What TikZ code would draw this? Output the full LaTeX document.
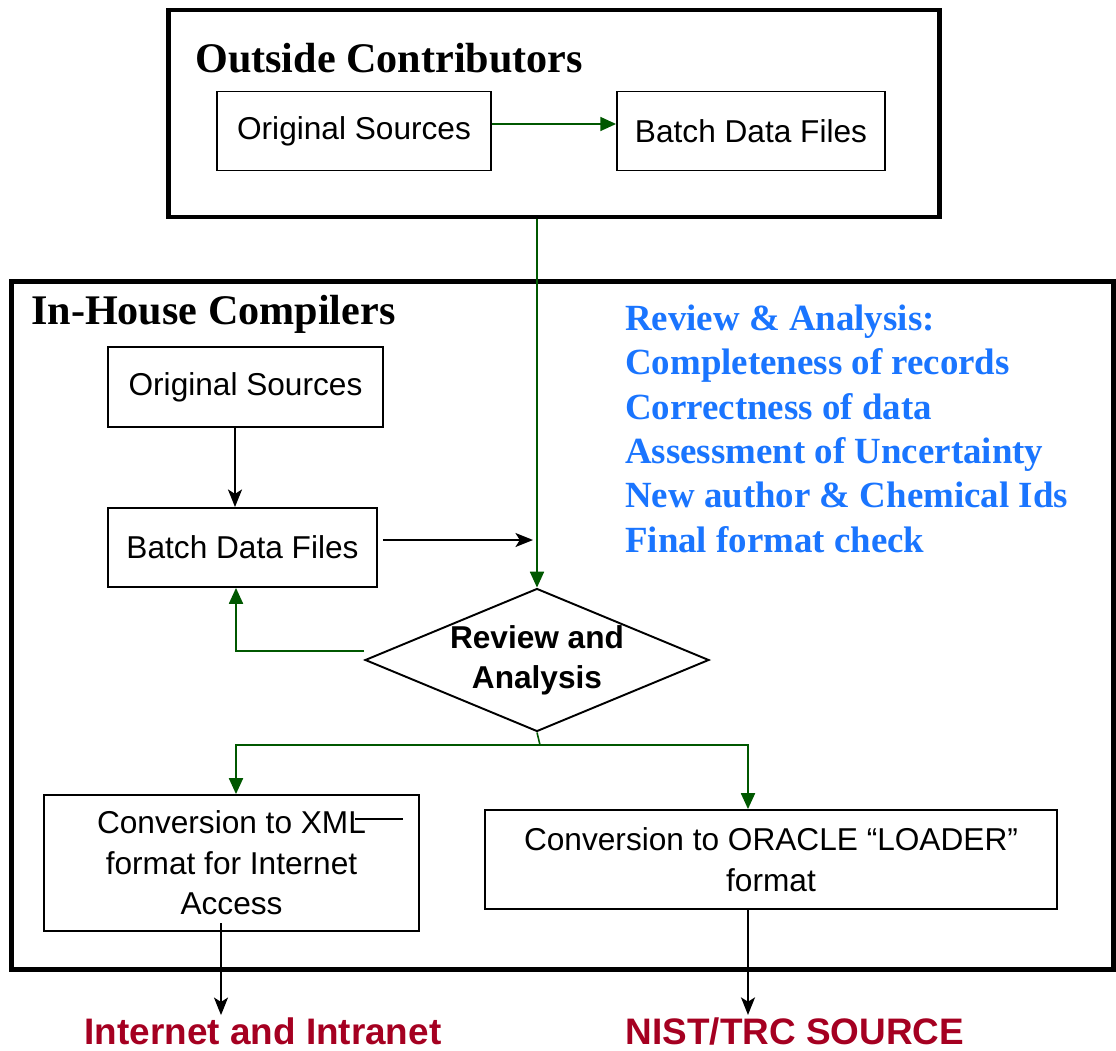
\documentclass[tikz,border=0pt]{standalone}
\usepackage{fontspec}
\setmainfont{Liberation Serif}
\setsansfont{Liberation Sans}
\usetikzlibrary{shapes.geometric,arrows.meta}
\definecolor{flowgreen}{RGB}{0,88,0}
\definecolor{notesblue}{RGB}{26,117,255}
\definecolor{outred}{RGB}{165,0,33}

\begin{document}
\begin{tikzpicture}[x=0.02cm,y=-0.02cm,
  box/.style={draw,line width=1.1pt,inner sep=0pt,font=\sffamily\fontsize{18}{23}\selectfont,align=center},
  frame/.style={draw,line width=2.8pt,inner sep=0pt},
  title/.style={font=\bfseries\fontsize{24}{28}\selectfont,anchor=west},
  garrow/.style={draw=flowgreen,line width=0.9pt,-{Triangle[length=9pt,width=8pt]}},
  barrow/.style={line width=0.9pt,-{Stealth[length=10pt,width=8pt,inset=2.5pt]}},
  outlbl/.style={font=\sffamily\bfseries\fontsize{21}{25}\selectfont,text=outred,inner sep=0pt}]
\useasboundingbox (0,0) rectangle (1116,1051);
% outside contributors
\node[frame,minimum width=15.44cm,minimum height=4.14cm] (ext) at (554,113.5) {};
\node[title] (exttitle) at (189,58) {Outside Contributors};
\node[box,minimum width=5.48cm,minimum height=1.58cm] (src1) at (354,131) {Original Sources};
\node[box,minimum width=5.36cm,minimum height=1.58cm] (bat1) at (751,131) {Batch Data Files};
\draw[garrow] (src1.east |- 0,124) -- (bat1.west |- 0,124);
% in-house compilers
\node[frame,minimum width=22.06cm,minimum height=13.78cm] (inh) at (562.5,625.5) {};
\node[title] (inhtitle) at (25,314) {In-House Compilers};
\node[box,minimum width=5.5cm,minimum height=1.6cm] (src2) at (245.5,387) {Original Sources};
\node[box,minimum width=5.38cm,minimum height=1.58cm] (bat2) at (242.5,547.5) {Batch Data Files};
\node[draw,diamond,line width=1.1pt,aspect=2.4,inner sep=0pt,minimum width=6.88cm,minimum height=2.86cm,
  font=\sffamily\bfseries\fontsize{18}{22.7}\selectfont,align=center] (dia) at (537,660) {Review and\\Analysis};
\node[box,minimum width=7.5cm,minimum height=2.72cm] (xml) at (231.5,863) {Conversion to XML\\format for Internet\\Access};
\node[box,minimum width=11.44cm,minimum height=1.98cm] (orc) at (771,859.5) {Conversion to ORACLE ``LOADER''\\format};
\node[anchor=base west,align=left,text=notesblue,font=\bfseries\fontsize{21}{25.2}\selectfont] (notes) at (619,552)
  {Review \& Analysis:\\Completeness of records\\Correctness of data\\Assessment of Uncertainty\\New author \& Chemical Ids\\Final format check};
\coordinate (hit) at (533,540);
\coordinate (split) at (540,745);
\draw[barrow] (src2.south -| 235,0) -- (bat2.north -| 235,0);
\draw[barrow] (bat2.east |- hit) ++(5,0) -- (hit);
\draw[garrow] (ext.south -| dia.north) -- (dia.north);
\draw[garrow] (dia.west |- 0,651) -| (bat2.south -| 236,0);
\draw[flowgreen,line width=0.9pt] (dia.south) -- (split);
\draw[garrow] (split) -| (xml.north -| 236,0);
\draw[garrow] (split) -| (orc.north -| 748,0);
\draw[line width=0.9pt] (355,819) -- (403,819);
% outputs
\node[outlbl] (net) at (263,1031) {Internet and Intranet};
\node[outlbl] (nist) at (795,1031) {NIST/TRC SOURCE};
\draw[barrow] (221,923) -- ([yshift=0.04cm]net.north -| 221,0);
\draw[barrow] (orc.south -| 748,0) -- ([yshift=0.04cm]nist.north -| 748,0);
\end{tikzpicture}
\end{document}
